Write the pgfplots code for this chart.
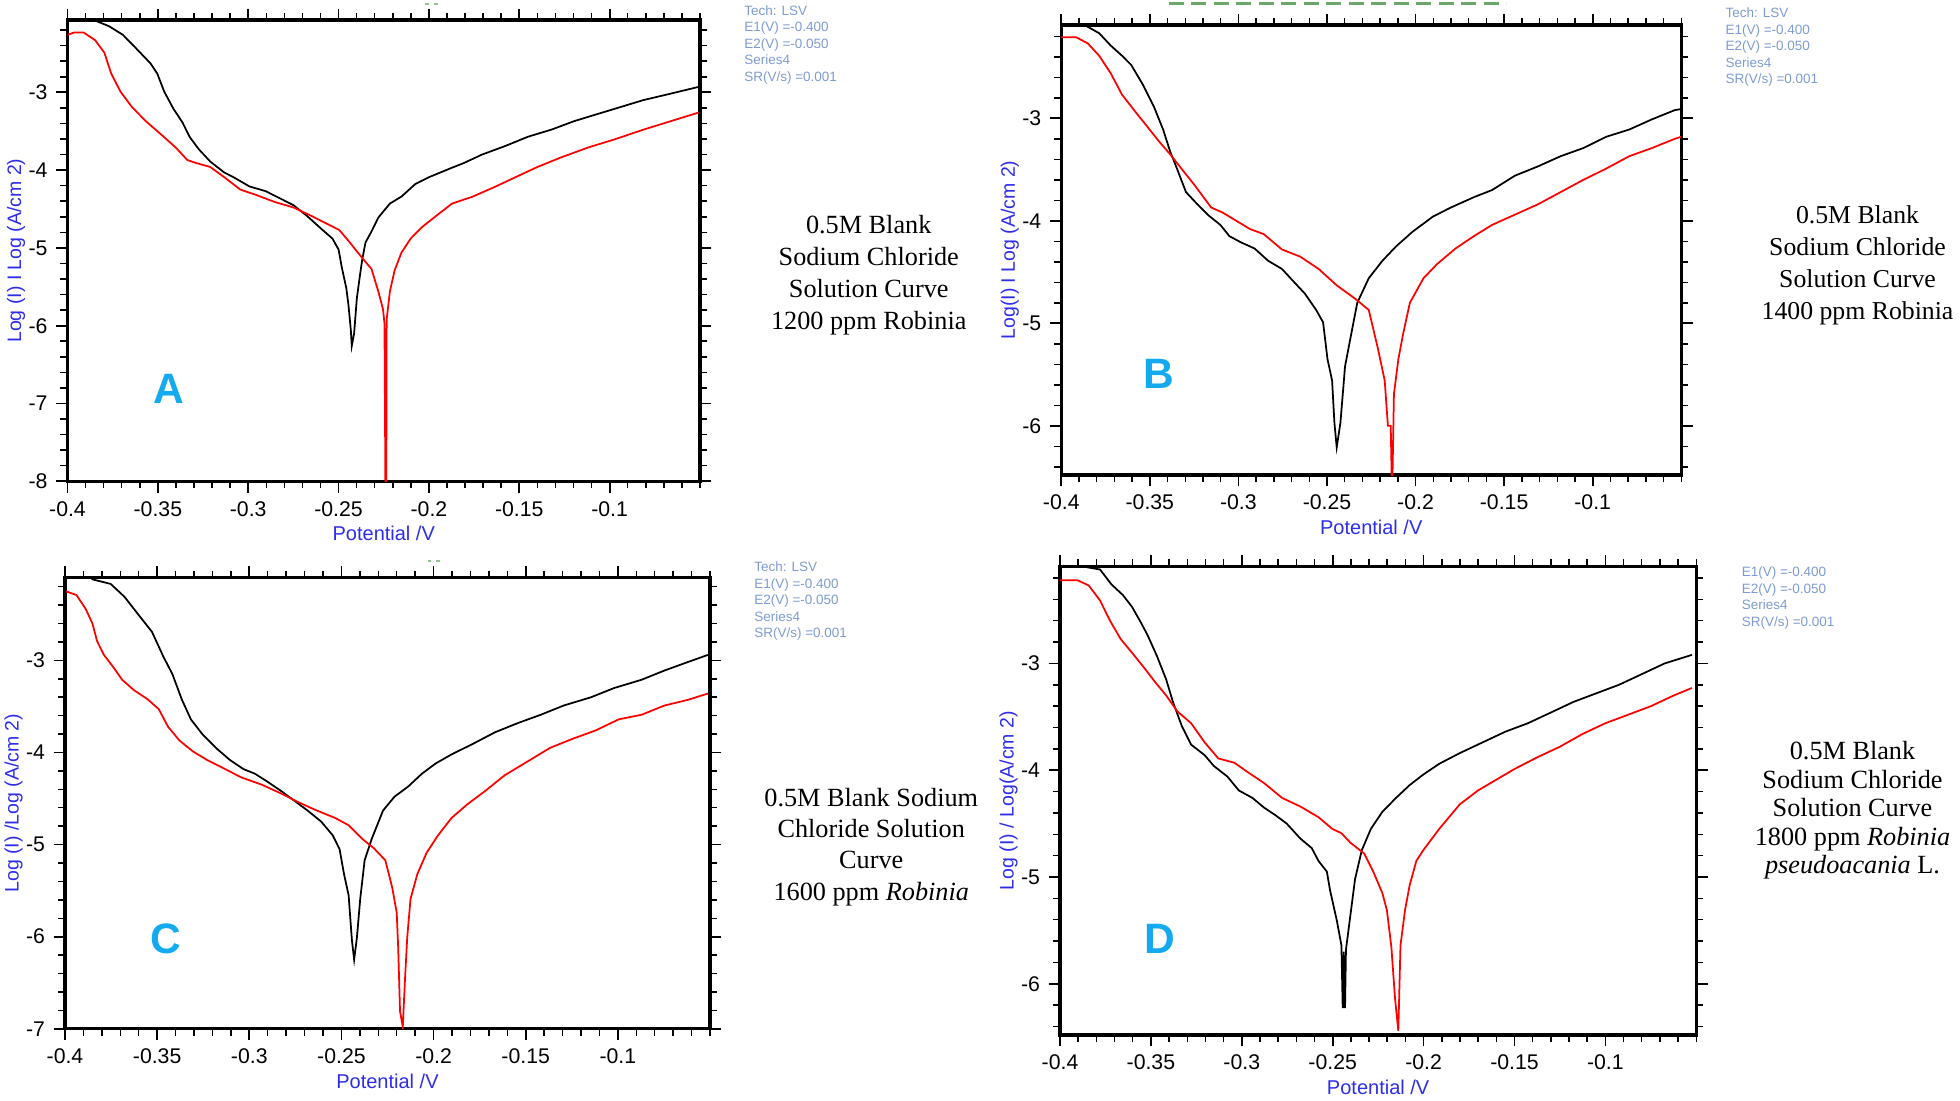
\documentclass[border=0pt]{standalone}
\usepackage{pgfplots}
\pgfplotsset{compat=1.18}
\usepackage{fontspec}
\setmainfont{Liberation Serif}
\setsansfont{Liberation Sans}
\definecolor{lblue}{RGB}{45,45,235}
\definecolor{infoblue}{RGB}{125,155,210}
\definecolor{letterblue}{RGB}{20,170,240}
\definecolor{ggreen}{RGB}{40,130,40}
\newcommand\tickfont{\sffamily\fontsize{8.5}{9}\selectfont}
\pgfplotsset{
  panel/.style={
    scale only axis,
    anchor=south west,
    xmin=-0.4, xmax=-0.05,
    xtick={-0.4,-0.35,-0.3,-0.25,-0.2,-0.15,-0.1},
    minor xtick={-0.4,-0.39,...,-0.05},
    tick align=outside,
    axis line style={line width=1.3pt},
    major tick length=4.5pt,
    minor tick length=2.8pt,
    every tick/.style={black, line width=0.7pt},
    every minor tick/.style={black, line width=0.6pt},
    tick label style={font=\tickfont},
    /pgf/number format/assume math mode=true,
    xticklabel style={/pgf/number format/fixed, /pgf/number format/precision=2},
    xlabel={Potential /V},
    xlabel style={font=\sffamily\fontsize{8}{9}\selectfont, text=lblue, yshift=3pt},
    ylabel style={font=\sffamily\fontsize{7.8}{9}\selectfont, text=lblue, yshift=-5.5pt},
    clip=true,
  },
  blk/.style={black, line width=0.7pt, mark=none},
  rd/.style={red, line width=0.7pt, mark=none},
}
\begin{document}
\begin{tikzpicture}
\path[use as bounding box] (0,0) rectangle (784pt,440pt);

% ---------------- Panel A ----------------
\begin{axis}[panel, at={(27pt,247.5pt)}, width=253pt, height=184.5pt,
  ymin=-8, ymax=-2.07, ytick={-8,-7,-6,-5,-4,-3}, minor ytick={-8,-7.8,...,-2.2},
  ylabel={Log (I) I Log (A/cm 2)}]
\addplot[blk] coordinates {
(-0.392,-1.95) (-0.3834,-2.09) (-0.377,-2.15) (-0.3694,-2.26) (-0.3618,-2.44) (-0.354,-2.63)
(-0.3503,-2.76) (-0.3465,-2.99) (-0.3414,-3.21) (-0.3363,-3.39) (-0.3325,-3.57)
(-0.3274,-3.73) (-0.321,-3.89) (-0.3133,-4.03) (-0.3082,-4.09) (-0.2993,-4.21)
(-0.2904,-4.27) (-0.2827,-4.36) (-0.275,-4.45) (-0.2674,-4.59) (-0.2598,-4.75)
(-0.2534,-4.88) (-0.25,-5.02) (-0.2483,-5.24) (-0.2457,-5.52) (-0.2445,-5.74)
(-0.2432,-6.06) (-0.2427,-6.26) (-0.2414,-6.10) (-0.2399,-5.65) (-0.2381,-5.34)
(-0.2369,-5.15) (-0.2351,-4.93) (-0.2318,-4.79) (-0.228,-4.61) (-0.2216,-4.43)
(-0.2152,-4.34) (-0.2076,-4.18) (-0.1999,-4.09) (-0.1884,-3.98) (-0.1808,-3.91)
(-0.1706,-3.80) (-0.1578,-3.69) (-0.1451,-3.57) (-0.1323,-3.48) (-0.1196,-3.37)
(-0.1069,-3.28) (-0.0941,-3.19) (-0.0814,-3.10) (-0.0686,-3.03) (-0.0508,-2.93)
};
\addplot[rd] coordinates {
(-0.4,-2.26) (-0.3962,-2.23) (-0.3911,-2.23) (-0.3847,-2.33) (-0.3796,-2.49)
(-0.3758,-2.76) (-0.3707,-2.99) (-0.3643,-3.19) (-0.3567,-3.37) (-0.3478,-3.55)
(-0.3401,-3.71) (-0.3337,-3.87) (-0.3286,-3.91) (-0.321,-3.96) (-0.3133,-4.09)
(-0.3044,-4.25) (-0.2955,-4.32) (-0.2853,-4.41) (-0.275,-4.48) (-0.2649,-4.59)
(-0.2573,-4.68) (-0.2496,-4.77) (-0.2445,-4.91) (-0.2369,-5.13) (-0.2318,-5.27)
(-0.228,-5.56) (-0.2254,-5.79) (-0.2246,-5.97) (-0.2241,-8.0) (-0.2236,-8.0) (-0.2234,-5.92)
(-0.2216,-5.56) (-0.2190,-5.29) (-0.2152,-5.06) (-0.2101,-4.88) (-0.2037,-4.73)
(-0.1961,-4.59) (-0.1872,-4.43) (-0.1757,-4.34) (-0.163,-4.21) (-0.1502,-4.07)
(-0.14,-3.96) (-0.1273,-3.84) (-0.112,-3.71) (-0.0967,-3.60) (-0.0814,-3.48)
(-0.0661,-3.37) (-0.0508,-3.26)
};
\end{axis}

% ---------------- Panel B ----------------
\begin{axis}[panel, at={(424.5pt,250pt)}, width=248pt, height=180pt,
  ymin=-6.48, ymax=-2.09, ytick={-6,-5,-4,-3}, minor ytick={-6.4,-6.2,...,-2.2},
  ylabel={Log(I) I Log (A/cm 2)}]
\addplot[blk] coordinates {
(-0.392,-1.98) (-0.3858,-2.10) (-0.3786,-2.17) (-0.3721,-2.29) (-0.3657,-2.39) (-0.3605,-2.48)
(-0.354,-2.67) (-0.3476,-2.89) (-0.3425,-3.11) (-0.3386,-3.32) (-0.3347,-3.49)
(-0.3296,-3.72) (-0.3231,-3.84) (-0.3167,-3.95) (-0.3102,-4.04) (-0.3051,-4.15)
(-0.2986,-4.21) (-0.2909,-4.27) (-0.2832,-4.39) (-0.2754,-4.47) (-0.269,-4.59)
(-0.2625,-4.71) (-0.2561,-4.87) (-0.2522,-4.99) (-0.2497,-5.35) (-0.2471,-5.56)
(-0.2458,-5.97) (-0.2445,-6.21) (-0.2424,-5.97) (-0.2398,-5.42) (-0.2367,-5.14)
(-0.2329,-4.80) (-0.2264,-4.56) (-0.2187,-4.39) (-0.211,-4.25) (-0.2019,-4.11)
(-0.1903,-3.96) (-0.18,-3.87) (-0.1671,-3.77) (-0.1568,-3.70) (-0.1439,-3.56)
(-0.131,-3.47) (-0.1181,-3.37) (-0.1052,-3.29) (-0.0923,-3.18) (-0.0794,-3.11)
(-0.0665,-3.01) (-0.0536,-2.92) (-0.05,-2.91)
};
\addplot[rd] coordinates {
(-0.4,-2.21) (-0.3915,-2.21) (-0.3850,-2.27) (-0.3786,-2.39) (-0.3721,-2.56)
(-0.3657,-2.77) (-0.3580,-2.94) (-0.3515,-3.08) (-0.3451,-3.22) (-0.3386,-3.35)
(-0.3322,-3.49) (-0.3244,-3.66) (-0.3154,-3.87) (-0.3089,-3.92) (-0.3012,-4.00)
(-0.2935,-4.08) (-0.2857,-4.13) (-0.2754,-4.28) (-0.2651,-4.35) (-0.2547,-4.47)
(-0.2445,-4.63) (-0.2341,-4.76) (-0.2264,-4.87) (-0.2212,-5.25) (-0.2174,-5.56)
(-0.2156,-6.00) (-0.2140,-6.00) (-0.2135,-6.48) (-0.2130,-6.48) (-0.2122,-5.69) (-0.2097,-5.35)
(-0.2071,-5.11) (-0.2032,-4.80) (-0.1955,-4.56) (-0.1877,-4.42) (-0.1774,-4.27)
(-0.1671,-4.15) (-0.1568,-4.04) (-0.1439,-3.94) (-0.131,-3.84) (-0.1181,-3.72)
(-0.1052,-3.60) (-0.0923,-3.49) (-0.0794,-3.37) (-0.0665,-3.29) (-0.0536,-3.20) (-0.05,-3.18)
};
\end{axis}

% ---------------- Panel C ----------------
\begin{axis}[panel, at={(26pt,28.5pt)}, width=258pt, height=180.5pt,
  ymin=-7, ymax=-2.10, ytick={-7,-6,-5,-4,-3}, minor ytick={-7,-6.8,...,-2.2},
  ylabel={Log (I) /Log (A/cm 2)}]
\addplot[blk] coordinates {
(-0.392,-2.00) (-0.3851,-2.12) (-0.3752,-2.17) (-0.3677,-2.31) (-0.3603,-2.50) (-0.3528,-2.69)
(-0.3466,-2.96) (-0.3417,-3.15) (-0.3367,-3.42) (-0.3317,-3.64) (-0.3255,-3.80)
(-0.3181,-3.95) (-0.3106,-4.08) (-0.3032,-4.18) (-0.2970,-4.23) (-0.2907,-4.31)
(-0.2833,-4.41) (-0.2758,-4.52) (-0.2684,-4.63) (-0.2610,-4.75) (-0.2547,-4.90)
(-0.2510,-5.05) (-0.2486,-5.32) (-0.2461,-5.55) (-0.2443,-6.04) (-0.2431,-6.25)
(-0.2416,-6.01) (-0.2398,-5.59) (-0.2374,-5.17) (-0.2336,-4.94) (-0.2274,-4.63)
(-0.2212,-4.48) (-0.2138,-4.37) (-0.2063,-4.23) (-0.1989,-4.12) (-0.1902,-4.02)
(-0.1790,-3.91) (-0.1666,-3.78) (-0.1542,-3.68) (-0.1418,-3.59) (-0.1294,-3.49)
(-0.1145,-3.40) (-0.102,-3.30) (-0.0871,-3.21) (-0.0747,-3.11) (-0.0623,-3.02)
(-0.0511,-2.94)
};
\addplot[rd] coordinates {
(-0.3995,-2.25) (-0.3938,-2.29) (-0.3888,-2.44) (-0.3851,-2.60) (-0.3826,-2.79)
(-0.3789,-2.94) (-0.3739,-3.07) (-0.369,-3.21) (-0.3628,-3.32) (-0.3553,-3.42)
(-0.3491,-3.53) (-0.3441,-3.72) (-0.3379,-3.87) (-0.3305,-3.99) (-0.323,-4.08)
(-0.3131,-4.18) (-0.3044,-4.27) (-0.2932,-4.35) (-0.2833,-4.44) (-0.2734,-4.54)
(-0.2634,-4.63) (-0.2535,-4.71) (-0.2461,-4.79) (-0.2386,-4.94) (-0.2324,-5.04)
(-0.2262,-5.17) (-0.2224,-5.47) (-0.2200,-5.74) (-0.2192,-6.12) (-0.2182,-6.81)
(-0.2167,-6.98) (-0.2155,-6.46) (-0.2143,-6.01) (-0.2125,-5.59) (-0.2088,-5.32)
(-0.2038,-5.09) (-0.1976,-4.90) (-0.1902,-4.71) (-0.1815,-4.56) (-0.1715,-4.41)
(-0.1616,-4.25) (-0.1492,-4.10) (-0.1368,-3.95) (-0.1244,-3.85) (-0.1120,-3.76)
(-0.0995,-3.64) (-0.0871,-3.59) (-0.0747,-3.49) (-0.0623,-3.43) (-0.0511,-3.36)
};
\end{axis}

% ---------------- Panel D ----------------
\begin{axis}[panel, at={(424pt,26pt)}, width=254.5pt, height=187.5pt,
  ymin=-6.48, ymax=-2.09, ytick={-6,-5,-4,-3}, minor ytick={-6.4,-6.2,...,-2.2},
  ylabel={Log (I) / Log(A/cm 2)}]
\addplot[blk] coordinates {
(-0.392,-2.00) (-0.385,-2.10) (-0.378,-2.12) (-0.3717,-2.26) (-0.3654,-2.36) (-0.3604,-2.47)
(-0.3554,-2.62) (-0.3517,-2.74) (-0.3467,-2.93) (-0.3416,-3.15) (-0.3379,-3.36)
(-0.3329,-3.59) (-0.3279,-3.76) (-0.3204,-3.86) (-0.3154,-3.96) (-0.3079,-4.06)
(-0.3016,-4.19) (-0.2941,-4.26) (-0.2878,-4.35) (-0.2816,-4.42) (-0.2753,-4.50)
(-0.2678,-4.64) (-0.2615,-4.73) (-0.2578,-4.85) (-0.2532,-4.95) (-0.2515,-5.12)
(-0.2477,-5.41) (-0.2452,-5.64) (-0.2445,-6.22) (-0.2439,-6.22) (-0.2439,-5.70) (-0.2436,-6.22)
(-0.2432,-6.22) (-0.2427,-5.68) (-0.2402,-5.35) (-0.2377,-5.02) (-0.234,-4.75)
(-0.229,-4.55) (-0.2227,-4.39) (-0.2152,-4.26) (-0.2077,-4.14) (-0.2001,-4.04)
(-0.1914,-3.94) (-0.1801,-3.84) (-0.1676,-3.74) (-0.1551,-3.64) (-0.1426,-3.56)
(-0.1300,-3.46) (-0.1175,-3.36) (-0.1050,-3.28) (-0.0925,-3.20) (-0.0799,-3.10)
(-0.0674,-3.00) (-0.0524,-2.92)
};
\addplot[rd] coordinates {
(-0.4,-2.22) (-0.3905,-2.22) (-0.3842,-2.27) (-0.378,-2.41) (-0.3725,-2.60)
(-0.3667,-2.77) (-0.3604,-2.90) (-0.3542,-3.03) (-0.3479,-3.17) (-0.3416,-3.30)
(-0.3354,-3.45) (-0.3279,-3.56) (-0.3204,-3.74) (-0.3129,-3.89) (-0.3041,-3.93)
(-0.2966,-4.02) (-0.2878,-4.12) (-0.2778,-4.26) (-0.2678,-4.34) (-0.2578,-4.44)
(-0.2502,-4.55) (-0.2452,-4.59) (-0.2402,-4.68) (-0.2327,-4.78) (-0.2277,-4.95)
(-0.2227,-5.15) (-0.2202,-5.31) (-0.2177,-5.66) (-0.2157,-6.14) (-0.2139,-6.44)
(-0.2127,-5.64) (-0.2102,-5.31) (-0.2077,-5.08) (-0.204,-4.85) (-0.2002,-4.75)
(-0.1914,-4.55) (-0.1801,-4.32) (-0.1701,-4.19) (-0.1601,-4.09) (-0.1501,-3.99)
(-0.1376,-3.88) (-0.125,-3.78) (-0.1125,-3.66) (-0.1000,-3.56) (-0.0874,-3.48)
(-0.0749,-3.40) (-0.0624,-3.30) (-0.0524,-3.23)
};
\end{axis}

% ---------------- Panel letters ----------------
\begin{scope}[every node/.style={text=letterblue, font=\sffamily\bfseries\fontsize{17}{17}\selectfont, inner sep=0}]
\node at (67.5pt,284.5pt) {A};
\node at (463.5pt,290.5pt) {B};
\node at (66.5pt,64.5pt) {C};
\node at (464pt,64.5pt) {D};
\end{scope}

% ---------------- Descriptions ----------------
\node[align=center, font=\fontsize{10.5}{12.8}\selectfont] at (347.5pt,330pt)
 {0.5M Blank\\Sodium Chloride\\Solution Curve\\1200 ppm Robinia};
\node[align=center, font=\fontsize{10.3}{12.8}\selectfont] at (743pt,333.75pt)
 {0.5M Blank\\Sodium Chloride\\Solution Curve\\1400 ppm Robinia};
\node[align=center, font=\fontsize{10.5}{12.5}\selectfont] at (348.5pt,101.25pt)
 {0.5M Blank Sodium\\Chloride Solution\\Curve\\1600 ppm \textit{Robinia}};
\node[align=center, font=\fontsize{10.5}{11.4}\selectfont] at (741pt,115.75pt)
 {0.5M Blank\\Sodium Chloride\\Solution Curve\\1800 ppm \textit{Robinia}\\\textit{pseudoacania} L.};

% ---------------- Instrument info ----------------
\begin{scope}[every node/.style={anchor=north west, align=left, text=infoblue, inner sep=0,
   font=\sffamily\fontsize{5.4}{6.6}\selectfont}]
\node at (297.5pt,438pt) {Tech: LSV\\E1(V) =-0.400\\E2(V) =-0.050\\Series4\\SR(V/s) =0.001};
\node at (690pt,437pt) {Tech: LSV\\E1(V) =-0.400\\E2(V) =-0.050\\Series4\\SR(V/s) =0.001};
\node at (301.5pt,215.5pt) {Tech: LSV\\E1(V) =-0.400\\E2(V) =-0.050\\Series4\\SR(V/s) =0.001};
\node at (696.5pt,213.5pt) {E1(V) =-0.400\\E2(V) =-0.050\\Series4\\SR(V/s) =0.001};
\end{scope}

% faint garbled titles
\draw[ggreen!70, line width=1pt, dash pattern=on 6pt off 3pt] (467.5pt,438.5pt) -- (602.5pt,438.5pt);
\draw[ggreen!50, line width=0.8pt, dash pattern=on 1.5pt off 2pt] (170pt,438.5pt) -- (176pt,438.5pt);
\draw[ggreen!50, line width=0.8pt, dash pattern=on 1.5pt off 2pt] (171pt,215.5pt) -- (177pt,215.5pt);
\end{tikzpicture}
\end{document}
